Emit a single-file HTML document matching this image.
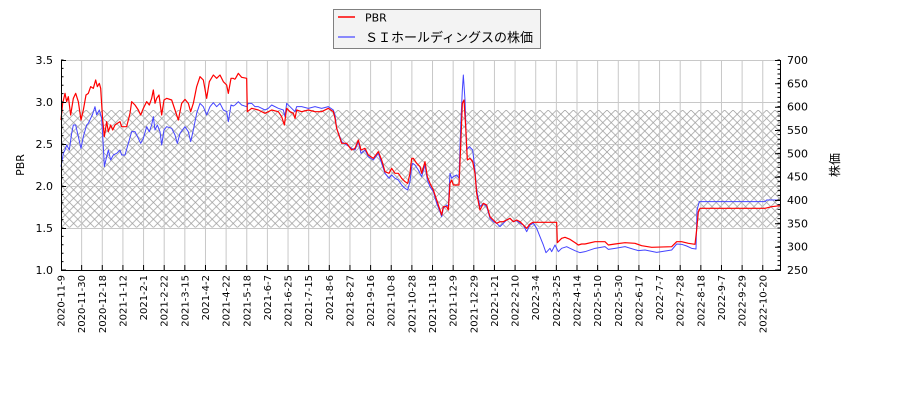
<!DOCTYPE html>
<html><head><meta charset="utf-8"><style>
html,body{margin:0;padding:0;background:#fff;}
svg{display:block;}
text{font-family:"DejaVu Sans","Liberation Sans","Noto Sans CJK JP",sans-serif;fill:#000;}
</style></head><body>
<svg width="900" height="400" viewBox="0 0 900 400" xmlns="http://www.w3.org/2000/svg">
<defs>
<pattern id="h" patternUnits="userSpaceOnUse" width="8.4" height="8.4" x="61" y="110">
<path d="M0,0L8.4,8.4M8.4,0L0,8.4" stroke="#999" stroke-width="0.7" fill="none"/>
</pattern>
</defs>
<rect x="0" y="0" width="900" height="400" fill="#fff"/>
<!-- hatch -->
<rect x="61" y="110" width="719" height="117.5" fill="url(#h)"/>
<!-- grid -->
<g stroke="#c8c8c8" stroke-width="1">
<path d="M61,60.5H780M61,102.5H780M61,144.5H780M61,186.5H780M61,228.5H780"/>
<path d="M81.64,60V270M102.28,60V270M122.92,60V270M143.56,60V270M164.2,60V270M184.84,60V270M205.48,60V270M226.12,60V270M246.76,60V270M267.4,60V270M288.04,60V270M308.68,60V270M329.32,60V270M349.96,60V270M370.6,60V270M391.24,60V270M411.88,60V270M432.52,60V270M453.16,60V270M473.8,60V270M494.44,60V270M515.08,60V270M535.72,60V270M556.36,60V270M577,60V270M597.64,60V270M618.28,60V270M638.92,60V270M659.56,60V270M680.2,60V270M700.84,60V270M721.48,60V270M742.12,60V270M762.76,60V270"/>
</g>
<!-- blue series -->
<g fill="none" stroke="#4444ff" stroke-width="1" stroke-linejoin="round">
<polyline vector-effect="non-scaling-stroke" transform="translate(60,60) scale(0.33333)" points="3,320 10,280 15,270 20,255 28,270 35,220 40,195 47,195 55,230 63,265 70,230 80,195 85,190 92,175 97,165 105,140 110,165 118,150 125,175 130,260 133,320 140,290 145,270 152,300 160,285 170,280 180,270 185,285 195,285 205,250 215,215 225,215 235,235 242,250 250,235 260,200 268,215 275,195 280,170 285,210 292,195 300,215 305,255 312,210 320,200 335,205 345,225 352,250 360,220 375,200 385,215 392,245 400,210 410,160 420,130 430,140 440,165 450,140 460,128 470,140 480,130 490,150 500,155 505,185 513,135 520,138 525,135"/>
<polyline vector-effect="non-scaling-stroke" transform="translate(235,60) scale(0.33333)" points="0,135 10,125 20,135 35,140 40,130 50,130 60,140 70,140 80,145 90,150 100,145 110,135 130,145 145,150 150,170 155,130 165,140 180,155 185,140 200,140 220,145 240,140 260,145 280,140 295,150 300,165 305,205 320,245 335,255 350,265 360,270 370,245 378,280 390,270 400,290 415,300 430,280 440,310 450,340 462,355 470,345 480,355 490,360 500,375 510,385 518,390 525,365 530,320"/>
<polyline vector-effect="non-scaling-stroke" transform="translate(410,60) scale(0.33333)" points="5,320 8,310 15,315 25,330 35,350 45,315 52,360 60,380 70,395 80,430 90,455 95,470 100,445 110,435 115,440 120,340 125,355 130,350 140,345 147,355 152,200 157,90 160,45 165,120 170,270 178,260 188,270 195,330 200,390 210,440 220,430 230,440 240,475 250,485 260,490 270,500 280,490 290,480 300,475 310,485 320,482 330,490 340,495 350,515 360,495 370,490 380,505 390,530 400,555 408,578 420,565 425,575 435,555 445,575 455,565 470,560 480,565 495,572 510,578 525,575"/>
<polyline vector-effect="non-scaling-stroke" transform="translate(585,60) scale(0.33333)" points="0,575 30,565 60,560 70,568 90,565 120,560 160,572 180,570 215,577 260,570 275,552 290,553 305,558 320,565 333,567 336,450 343,425 540,425 545,420 585,420"/>
</g>
<!-- red series -->
<g fill="none" stroke="#ff0000" stroke-width="1.2" stroke-linejoin="round">
<polyline vector-effect="non-scaling-stroke" transform="translate(60,60) scale(0.33333)" points="3,180 8,130 15,100 20,125 25,110 32,165 40,115 47,100 55,125 63,180 70,150 78,105 85,100 92,80 100,85 107,60 112,80 118,70 122,85 128,180 133,230 140,185 145,215 152,195 158,210 165,195 172,190 180,185 185,200 200,200 210,160 215,125 225,135 235,150 242,165 250,145 260,125 268,135 275,115 280,90 285,130 290,115 297,105 305,165 312,120 320,115 335,120 345,150 355,180 365,130 375,118 385,130 392,155 400,130 410,80 420,50 430,60 440,115 448,65 460,45 470,55 480,45 490,65 500,75 505,100 513,55 520,55 525,58"/>
<polyline vector-effect="non-scaling-stroke" transform="translate(235,60) scale(0.33333)" points="0,58 10,40 20,52 35,55 37,155 50,145 70,150 90,160 110,150 130,155 140,170 148,195 155,145 165,155 175,160 180,175 185,150 200,155 220,150 240,155 260,155 280,145 295,155 300,175 305,205 320,250 335,250 350,270 360,265 370,240 378,270 390,265 400,285 415,295 430,275 440,300 450,335 462,340 470,325 480,340 490,340 500,355 510,365 518,370 525,340 530,295"/>
<polyline vector-effect="non-scaling-stroke" transform="translate(410,60) scale(0.33333)" points="5,295 10,295 20,310 30,320 35,340 45,305 52,350 60,370 70,390 80,420 90,450 95,465 100,440 110,440 115,450 120,370 125,360 130,375 140,375 147,375 152,260 157,130 162,120 167,200 172,300 180,295 188,305 195,340 200,400 210,450 220,430 230,435 240,470 250,480 260,490 270,485 280,485 290,480 300,475 310,485 320,480 330,485 340,495 350,505 360,492 368,487 440,487 442,548 455,535 465,532 480,538 495,548 505,555 515,552 525,552"/>
<polyline vector-effect="non-scaling-stroke" transform="translate(585,60) scale(0.33333)" points="0,552 30,545 60,545 70,555 90,552 120,548 150,550 170,557 200,562 260,560 275,545 290,545 310,550 330,553 335,510 340,455 345,445 400,445 500,445 540,445 560,440 585,437"/>
</g>
<!-- spines -->
<g stroke="#000" stroke-width="1" fill="none">
<path d="M61.5,60V270.5H780.5V60"/>
</g>
<!-- ticks -->
<g stroke="#000" fill="none">
<line x1="62.25" y1="270.5" x2="62.25" y2="59.5" stroke-width="2.5" stroke-dasharray="1 7.4"/>
<line x1="778.75" y1="270.5" x2="778.75" y2="59.5" stroke-width="2.5" stroke-dasharray="1 3.6667"/>
<path stroke-width="1" d="M61,60.5h5M61,102.5h5M61,144.5h5M61,186.5h5M61,228.5h5M61,270h5M780,60.5h-5M780,83.8h-5M780,107.2h-5M780,130.5h-5M780,153.8h-5M780,177.2h-5M780,200.5h-5M780,223.8h-5M780,247.2h-5M780,270h-5"/>
<path stroke-width="1" d="M61.5,270v-5M81.64,270v-5M102.28,270v-5M122.92,270v-5M143.56,270v-5M164.2,270v-5M184.84,270v-5M205.48,270v-5M226.12,270v-5M246.76,270v-5M267.4,270v-5M288.04,270v-5M308.68,270v-5M329.32,270v-5M349.96,270v-5M370.6,270v-5M391.24,270v-5M411.88,270v-5M432.52,270v-5M453.16,270v-5M473.8,270v-5M494.44,270v-5M515.08,270v-5M535.72,270v-5M556.36,270v-5M577,270v-5M597.64,270v-5M618.28,270v-5M638.92,270v-5M659.56,270v-5M680.2,270v-5M700.84,270v-5M721.48,270v-5M742.12,270v-5M762.76,270v-5"/>
</g>
<!-- left y labels -->
<g font-size="11" text-anchor="end">
<text x="53" y="64">3.5</text>
<text x="53" y="106">3.0</text>
<text x="53" y="148">2.5</text>
<text x="53" y="190">2.0</text>
<text x="53" y="232">1.5</text>
<text x="53" y="274">1.0</text>
</g>
<!-- right y labels -->
<g font-size="11" text-anchor="start">
<text x="787" y="64">700</text>
<text x="787" y="87.3">650</text>
<text x="787" y="110.7">600</text>
<text x="787" y="134">550</text>
<text x="787" y="157.3">500</text>
<text x="787" y="180.7">450</text>
<text x="787" y="204">400</text>
<text x="787" y="227.3">350</text>
<text x="787" y="250.7">300</text>
<text x="787" y="274">250</text>
</g>
<!-- axis titles -->
<text font-size="11" text-anchor="middle" transform="translate(24,165) rotate(-90)">PBR</text>
<text font-size="12" text-anchor="middle" style="font-family:'Noto Sans CJK JP',sans-serif" transform="translate(839,165) rotate(-90)">株価</text>
<!-- x labels -->
<g font-size="10" text-anchor="end">
<text transform="translate(61,275) rotate(-90)" dy="0.35em">2020-11-9</text>
<text transform="translate(81.64,275) rotate(-90)" dy="0.35em">2020-11-30</text>
<text transform="translate(102.28,275) rotate(-90)" dy="0.35em">2020-12-18</text>
<text transform="translate(122.92,275) rotate(-90)" dy="0.35em">2021-1-12</text>
<text transform="translate(143.56,275) rotate(-90)" dy="0.35em">2021-2-1</text>
<text transform="translate(164.2,275) rotate(-90)" dy="0.35em">2021-2-22</text>
<text transform="translate(184.84,275) rotate(-90)" dy="0.35em">2021-3-15</text>
<text transform="translate(205.48,275) rotate(-90)" dy="0.35em">2021-4-2</text>
<text transform="translate(226.12,275) rotate(-90)" dy="0.35em">2021-4-22</text>
<text transform="translate(246.76,275) rotate(-90)" dy="0.35em">2021-5-18</text>
<text transform="translate(267.4,275) rotate(-90)" dy="0.35em">2021-6-7</text>
<text transform="translate(288.04,275) rotate(-90)" dy="0.35em">2021-6-25</text>
<text transform="translate(308.68,275) rotate(-90)" dy="0.35em">2021-7-15</text>
<text transform="translate(329.32,275) rotate(-90)" dy="0.35em">2021-8-6</text>
<text transform="translate(349.96,275) rotate(-90)" dy="0.35em">2021-8-27</text>
<text transform="translate(370.6,275) rotate(-90)" dy="0.35em">2021-9-16</text>
<text transform="translate(391.24,275) rotate(-90)" dy="0.35em">2021-10-8</text>
<text transform="translate(411.88,275) rotate(-90)" dy="0.35em">2021-10-28</text>
<text transform="translate(432.52,275) rotate(-90)" dy="0.35em">2021-11-18</text>
<text transform="translate(453.16,275) rotate(-90)" dy="0.35em">2021-12-9</text>
<text transform="translate(473.8,275) rotate(-90)" dy="0.35em">2021-12-29</text>
<text transform="translate(494.44,275) rotate(-90)" dy="0.35em">2022-1-21</text>
<text transform="translate(515.08,275) rotate(-90)" dy="0.35em">2022-2-10</text>
<text transform="translate(535.72,275) rotate(-90)" dy="0.35em">2022-3-4</text>
<text transform="translate(556.36,275) rotate(-90)" dy="0.35em">2022-3-25</text>
<text transform="translate(577,275) rotate(-90)" dy="0.35em">2022-4-14</text>
<text transform="translate(597.64,275) rotate(-90)" dy="0.35em">2022-5-10</text>
<text transform="translate(618.28,275) rotate(-90)" dy="0.35em">2022-5-30</text>
<text transform="translate(638.92,275) rotate(-90)" dy="0.35em">2022-6-17</text>
<text transform="translate(659.56,275) rotate(-90)" dy="0.35em">2022-7-7</text>
<text transform="translate(680.2,275) rotate(-90)" dy="0.35em">2022-7-28</text>
<text transform="translate(700.84,275) rotate(-90)" dy="0.35em">2022-8-18</text>
<text transform="translate(721.48,275) rotate(-90)" dy="0.35em">2022-9-7</text>
<text transform="translate(742.12,275) rotate(-90)" dy="0.35em">2022-9-29</text>
<text transform="translate(762.76,275) rotate(-90)" dy="0.35em">2022-10-20</text>
</g>
<!-- legend -->
<rect x="333.5" y="9.5" width="207" height="39" fill="#f3f3f3" stroke="#808080" stroke-width="1"/>
<line x1="338" y1="17" x2="355" y2="17" stroke="#ff0000" stroke-width="1.5"/>
<line x1="338" y1="37" x2="355" y2="37" stroke="#6666ff" stroke-width="1.5"/>
<text x="365" y="21.5" font-size="11">PBR</text>
<text x="365" y="42" font-size="13" textLength="168" lengthAdjust="spacingAndGlyphs" style="font-family:'Liberation Sans','Noto Sans CJK JP',sans-serif">ＳＩホールディングスの株価</text>
</svg>
</body></html>
